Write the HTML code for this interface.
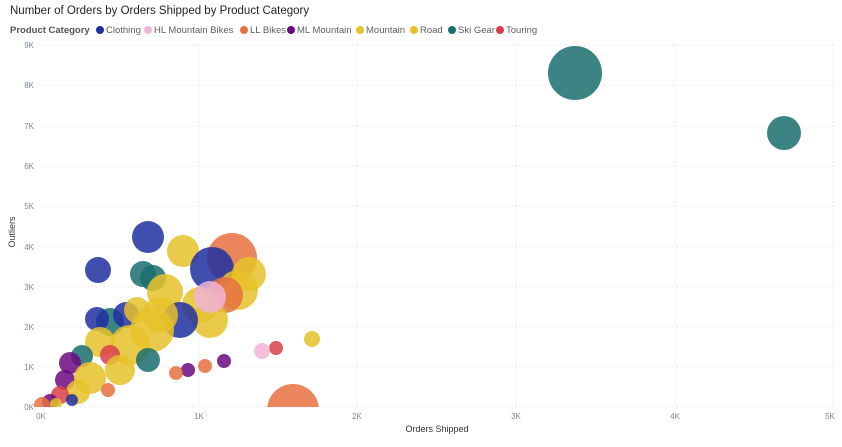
<!DOCTYPE html>
<html><head><meta charset="utf-8"><style>
body{margin:0;background:#fff;font-family:"Liberation Sans",sans-serif;}
</style></head><body>
<svg width="842" height="442" xmlns="http://www.w3.org/2000/svg" font-family="Liberation Sans, sans-serif">
<text x="10" y="14" font-size="11.5" fill="#252423">Number of Orders by Orders Shipped by Product Category</text>
<g font-size="9.5" fill="#605e5c">
<text x="10" y="33" font-weight="bold" fill="#555">Product Category</text>
<circle cx="100" cy="30" r="4" fill="#1f2fa0"/><text x="106" y="33">Clothing</text>
<circle cx="148" cy="30" r="4" fill="#f0b4d6"/><text x="154" y="33">HL Mountain Bikes</text>
<circle cx="244" cy="30" r="4" fill="#e8703f"/><text x="250" y="33">LL Bikes</text>
<circle cx="291" cy="30" r="4" fill="#6b0a80"/><text x="297" y="33">ML Mountain</text>
<circle cx="360" cy="30" r="4" fill="#e6c229"/><text x="366" y="33">Mountain</text>
<circle cx="414" cy="30" r="4" fill="#e6c229"/><text x="420" y="33">Road</text>
<circle cx="452" cy="30" r="4" fill="#1a6e6e"/><text x="458" y="33">Ski Gear</text>
<circle cx="500" cy="30" r="4" fill="#d93f4a"/><text x="506" y="33">Touring</text>
</g>
<g stroke="#ddd" stroke-dasharray="1,3" stroke-width="1">
<line x1="40" y1="45" x2="833" y2="45"/><line x1="40" y1="85" x2="833" y2="85"/><line x1="40" y1="126" x2="833" y2="126"/><line x1="40" y1="166" x2="833" y2="166"/><line x1="40" y1="206" x2="833" y2="206"/><line x1="40" y1="247" x2="833" y2="247"/><line x1="40" y1="287" x2="833" y2="287"/><line x1="40" y1="327" x2="833" y2="327"/><line x1="40" y1="367" x2="833" y2="367"/><line x1="40" y1="407" x2="833" y2="407"/>
<line x1="199" y1="45" x2="199" y2="407"/><line x1="357" y1="45" x2="357" y2="407"/><line x1="516" y1="45" x2="516" y2="407"/><line x1="675" y1="45" x2="675" y2="407"/><line x1="833" y1="45" x2="833" y2="407"/>
</g>
<g font-size="8" fill="#7a8a9c" text-anchor="end">
<text x="34" y="48">9K</text><text x="34" y="88">8K</text><text x="34" y="129">7K</text><text x="34" y="169">6K</text><text x="34" y="209">5K</text><text x="34" y="250">4K</text><text x="34" y="290">3K</text><text x="34" y="330">2K</text><text x="34" y="370">1K</text><text x="34" y="410">0K</text>
</g>
<g font-size="8" fill="#7a8a9c" text-anchor="middle">
<text x="41" y="419">0K</text><text x="199" y="419">1K</text><text x="357" y="419">2K</text><text x="516" y="419">3K</text><text x="675" y="419">4K</text><text x="830" y="419">5K</text>
</g>
<text x="437" y="432" font-size="9" fill="#333" text-anchor="middle">Orders Shipped</text>
<text transform="translate(15,232) rotate(-90)" font-size="9" fill="#333" text-anchor="middle">Outliers</text>
<defs><clipPath id="c"><rect x="30" y="40" width="810" height="367"/></clipPath></defs>
<g clip-path="url(#c)" fill-opacity="0.85">
<circle cx="575" cy="73" r="27" fill="#1a6e6e"/>
<circle cx="784" cy="133" r="17" fill="#1a6e6e"/>
<circle cx="293" cy="410" r="26" fill="#e8703f"/>
<circle cx="312" cy="339" r="8" fill="#e6c229"/>
<circle cx="276" cy="348" r="7" fill="#d93f4a"/>
<circle cx="262" cy="351" r="8" fill="#f0b4d6"/>
<circle cx="224" cy="361" r="7" fill="#6b0a80"/>
<circle cx="205" cy="366" r="7" fill="#e8703f"/>
<circle cx="188" cy="370" r="7" fill="#6b0a80"/>
<circle cx="176" cy="373" r="7" fill="#e8703f"/>
<circle cx="232" cy="258" r="25" fill="#e8703f"/>
<circle cx="148" cy="237" r="16" fill="#1f2fa0"/>
<circle cx="183" cy="251" r="16" fill="#e6c229"/>
<circle cx="98" cy="270" r="13" fill="#1f2fa0"/>
<circle cx="212" cy="269" r="22" fill="#1f2fa0"/>
<circle cx="249" cy="274" r="17" fill="#e6c229"/>
<circle cx="238" cy="290" r="20" fill="#e6c229"/>
<circle cx="225" cy="295" r="18" fill="#e8703f"/>
<circle cx="143" cy="274" r="13" fill="#1a6e6e"/>
<circle cx="153" cy="278" r="13" fill="#1a6e6e"/>
<circle cx="165" cy="292" r="18" fill="#e6c229"/>
<circle cx="210" cy="320" r="18" fill="#e6c229"/>
<circle cx="200" cy="305" r="18" fill="#e6c229"/>
<circle cx="180" cy="320" r="18" fill="#1f2fa0"/>
<circle cx="210" cy="297" r="16" fill="#f0b4d6"/>
<circle cx="110" cy="322" r="14" fill="#1a6e6e"/>
<circle cx="97" cy="319" r="12" fill="#1f2fa0"/>
<circle cx="126" cy="315" r="13" fill="#1f2fa0"/>
<circle cx="137" cy="310" r="13" fill="#e6c229"/>
<circle cx="160" cy="315" r="18" fill="#e6c229"/>
<circle cx="152" cy="330" r="22" fill="#e6c229"/>
<circle cx="100" cy="342" r="15" fill="#e6c229"/>
<circle cx="130" cy="345" r="20" fill="#e6c229"/>
<circle cx="148" cy="360" r="12" fill="#1a6e6e"/>
<circle cx="110" cy="355" r="10" fill="#d93f4a"/>
<circle cx="82" cy="356" r="11" fill="#1a6e6e"/>
<circle cx="70" cy="363" r="11" fill="#6b0a80"/>
<circle cx="120" cy="370" r="15" fill="#e6c229"/>
<circle cx="65" cy="380" r="10" fill="#6b0a80"/>
<circle cx="90" cy="378" r="16" fill="#e6c229"/>
<circle cx="108" cy="390" r="7" fill="#e8703f"/>
<circle cx="78" cy="392" r="12" fill="#e6c229"/>
<circle cx="60" cy="395" r="9" fill="#d93f4a"/>
<circle cx="72" cy="400" r="6" fill="#1f2fa0"/>
<circle cx="50" cy="402" r="8" fill="#6b0a80"/>
<circle cx="42" cy="405" r="8" fill="#e8703f"/>
<circle cx="56" cy="404" r="6" fill="#e6c229"/>
</g>
</svg>
</body></html>
